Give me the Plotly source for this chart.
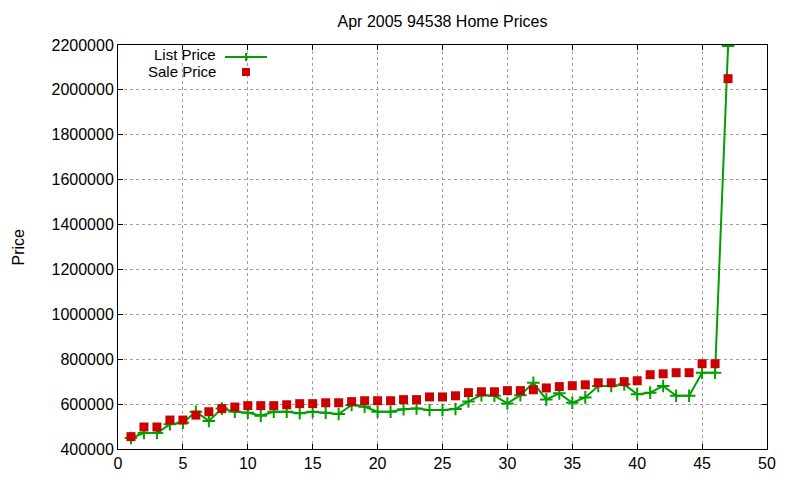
import plotly.graph_objects as go

# listing number 1..47, prices
house = list(range(1, 48))
list_price = [449000, 471000, 471000, 510000, 517000, 566000, 525000, 580000, 566000, 562000,
              548000, 566000, 566000, 559000, 566000, 562000, 556000, 596000, 588000, 566000,
              566000, 577000, 581000, 574000, 574000, 578000, 612000, 640000, 637000, 603000,
              640000, 695000, 621000, 648000, 606000, 630000, 681000, 681000, 688000, 644000,
              651000, 681000, 637000, 637000, 740000, 740000, 2195000]
sale_price = [455000, 498000, 498000, 529000, 529000, 551000, 566000, 580000, 587000, 593000,
              593000, 593000, 597000, 602000, 602000, 606000, 606000, 611000, 615000, 615000,
              615000, 620000, 620000, 632000, 632000, 637000, 651000, 655000, 655000, 660000,
              660000, 664000, 672000, 678000, 682000, 686000, 695000, 695000, 700000, 704000,
              731000, 735000, 740000, 740000, 780000, 780000, 2050000]
x_ticks = list(range(0, 51, 5))
y_ticks = list(range(400000, 2200001, 200000))

green = "#00a000"
red = "#cc0000"
font = "Liberation Sans, Arial, sans-serif"

# page has an 8px body margin, so the figure is a bit smaller than the window
W, H = 784, 464
L, R, T, B = 110, 25, 37, 23
pw, ph = W - L - R, H - T - B

fig = go.Figure()
fig.add_trace(go.Scatter(x=house, y=list_price, mode="lines+markers", name="List Price",
                         line=dict(color=green, width=2),
                         marker=dict(symbol="cross-thin", size=9,
                                     line=dict(color=green, width=2))))
fig.add_trace(go.Scatter(x=house, y=sale_price, mode="markers", name="Sale Price",
                         marker=dict(symbol="square", size=9, color=red,
                                     line=dict(width=0))))

axis = dict(showline=True, linecolor="black", linewidth=1, mirror="ticks",
            ticks="inside", ticklen=5, tickcolor="black", showgrid=True,
            gridcolor="#a0a0a0", griddash="dot", gridwidth=1, zeroline=False,
            automargin=False,
            tickfont=dict(family=font, size=16, color="black"))

fig.update_layout(
    width=W, height=H,
    margin=dict(l=L, r=R, t=T, b=B),
    paper_bgcolor="white", plot_bgcolor="white",
    showlegend=False,
    font=dict(family=font, size=16, color="black"),
    title=dict(text="Apr 2005 94538 Home Prices", x=0.5, xref="paper",
               y=1 - 13 / H, yref="container", yanchor="middle",
               font=dict(family=font, size=16, color="black")),
    xaxis=dict(axis, range=[0, 50], tickvals=x_ticks),
    yaxis=dict(axis, range=[400000, 2200000], tickvals=y_ticks,
               tickformat="d"),
)


# helpers: window pixel -> paper coordinate
def px(xp):
    return (xp - 8 - L) / pw


def py(yp):
    return (H + 8 - B - yp) / ph


# y label, kept just inside the figure's left edge
fig.add_annotation(text="Price", xref="paper", yref="paper",
                   x=px(8), y=0.5, textangle=-90, showarrow=False,
                   xanchor="left", yanchor="middle", borderpad=0,
                   font=dict(family=font, size=16))

# gnuplot style key: text right aligned, sample on the right
fig.add_annotation(text="List Price", xref="paper", yref="paper", x=px(217), y=py(54),
                   xanchor="right", yanchor="middle", showarrow=False, borderpad=0,
                   font=dict(family=font, size=15))
fig.add_annotation(text="Sale Price", xref="paper", yref="paper", x=px(217), y=py(72),
                   xanchor="right", yanchor="middle", showarrow=False, borderpad=0,
                   font=dict(family=font, size=15))
fig.add_shape(type="line", xref="paper", yref="paper", x0=px(225), x1=px(267),
              y0=py(57), y1=py(57), line=dict(color=green, width=2))
fig.add_shape(type="line", xref="paper", yref="paper", x0=px(246), x1=px(246),
              y0=py(53), y1=py(61), line=dict(color=green, width=2))
fig.add_shape(type="rect", xref="paper", yref="paper", x0=px(242), x1=px(250),
              y0=py(68), y1=py(76), fillcolor=red, line=dict(width=0))

fig.write_html("out.html")
